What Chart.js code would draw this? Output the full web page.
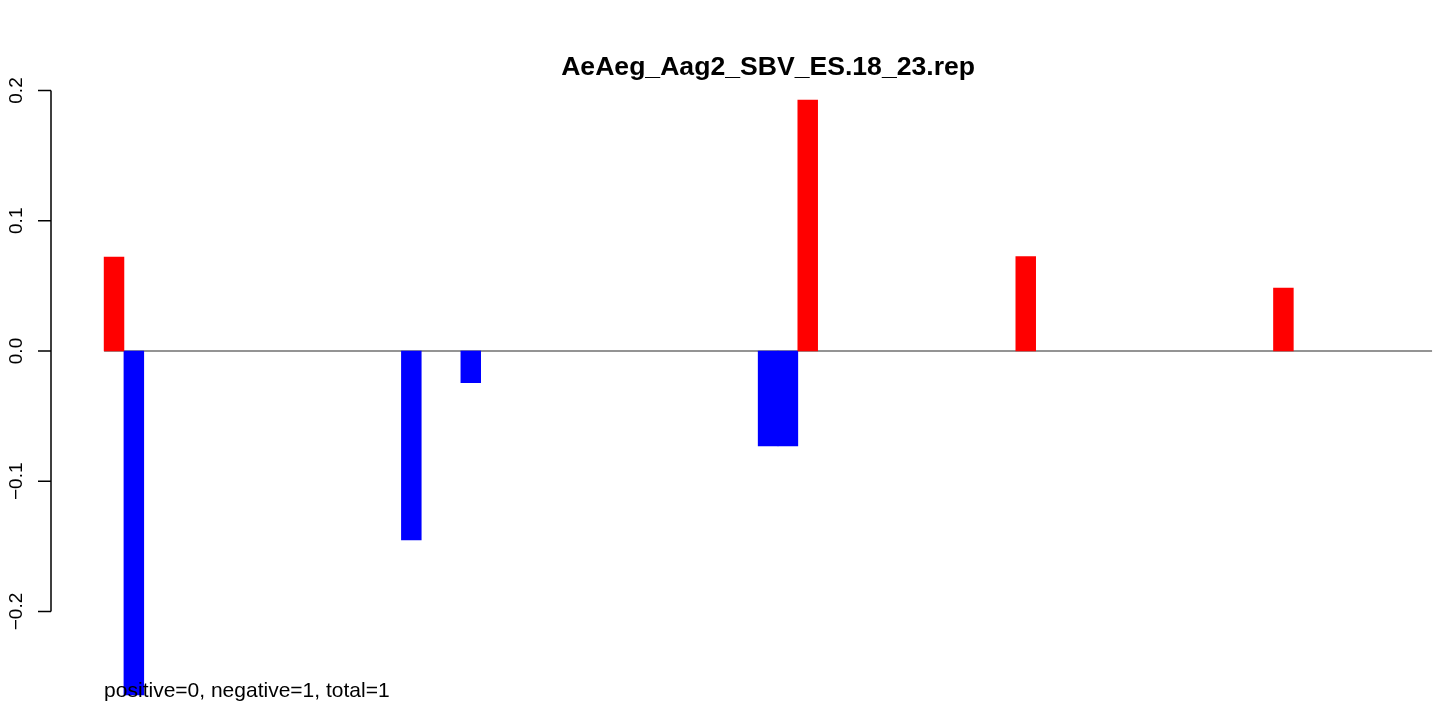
<!DOCTYPE html>
<html>
<head>
<meta charset="utf-8">
<script src="https://cdn.jsdelivr.net/npm/chart.js@4.4.1/dist/chart.umd.min.js"></script>
<style>
  html, body { margin: 0; padding: 0; background: #fff; }
  canvas { display: block; }
</style>
</head>
<body>
<canvas id="repChart" width="1439" height="706"></canvas>
<script>
// dados
const chartTitle = 'AeAeg_Aag2_SBV_ES.18_23.rep';
const footText = 'positive=0, negative=1, total=1';
const nSlots = 67;

const posSlots = [0, 35, 46, 59];
const posValues = [0.0722, 0.1927, 0.0724, 0.0484];

const negSlots = [1, 15, 18, 33, 34];
const negValues = [-0.2641, -0.1451, -0.0243, -0.0729, -0.0729];

const yTicks = [-0.2, -0.1, 0.0, 0.1, 0.2];
const yTickLabels = ['\u22120.2', '\u22120.1', '0.0', '0.1', '0.2'];

const fontFam = '"Liberation Sans", Arial, Helvetica, sans-serif';

// geometria (px) tirada da imagem
var slotPx = 19.82;
var areaLeft = 51;
var areaRight = 1439;
var xMin = -0.5 - 0.04 * nSlots;
var xMax = xMin + (areaRight - areaLeft) / slotPx;
var yPx = 1302.5;
var yMax = 351 / yPx;
var yMin = -(706 - 351) / yPx;

function toPoints(xs, ys) {
    return xs.map(function (x, i) { return { x: x, y: ys[i] }; });
}

// eixo y, titulo e texto de rodape desenhados a mao (rotulos girados como no R)
const rAxisPlugin = {
    id: 'rAxis',
    afterDraw(chart) {
        var ctx = chart.ctx;
        var ys = chart.scales.y;
        var xs = chart.scales.x;
        var axisX = chart.chartArea.left;

        ctx.save();
        ctx.strokeStyle = '#000';
        ctx.lineWidth = 1.5;
        ctx.beginPath();
        ctx.moveTo(axisX, ys.getPixelForValue(yTicks[0]));
        ctx.lineTo(axisX, ys.getPixelForValue(yTicks[yTicks.length - 1]));
        yTicks.forEach(function (t) {
            var py = ys.getPixelForValue(t);
            ctx.moveTo(axisX, py);
            ctx.lineTo(axisX - 13, py);
        });
        ctx.stroke();

        ctx.fillStyle = '#000';
        ctx.font = '19px ' + fontFam;
        ctx.textAlign = 'center';
        ctx.textBaseline = 'alphabetic';
        yTicks.forEach(function (t, i) {
            var py = ys.getPixelForValue(t);
            ctx.save();
            ctx.translate(22, py);
            ctx.rotate(-Math.PI / 2);
            ctx.fillText(yTickLabels[i], 0, 0);
            ctx.restore();
        });

        // titulo centrado na faixa das barras
        var midX = xs.getPixelForValue((nSlots - 1) / 2);
        ctx.font = 'bold 26.6px ' + fontFam;
        ctx.textAlign = 'center';
        ctx.fillText(chartTitle, midX, 75);

        // rodape alinhado com a primeira barra
        ctx.font = '21px ' + fontFam;
        ctx.textAlign = 'left';
        ctx.fillText(footText, xs.getPixelForValue(-0.5), 697);
        ctx.restore();
    }
};

var ctx1 = document.getElementById('repChart').getContext('2d');
var repChart = new Chart(ctx1, {
    type: 'bar',
    data: {
        datasets: [
            {
                label: 'positive',
                data: toPoints(posSlots, posValues),
                backgroundColor: '#ff0000',
                borderWidth: 0,
                grouped: false,
                barPercentage: 1,
                categoryPercentage: 1
            },
            {
                label: 'negative',
                data: toPoints(negSlots, negValues),
                backgroundColor: '#0000ff',
                borderWidth: 0,
                grouped: false,
                barPercentage: 1,
                categoryPercentage: 1
            },
            {
                // linha do zero, por baixo das barras
                type: 'line',
                label: 'zero',
                data: toPoints([-0.5, nSlots - 0.5], [0, 0]),
                borderColor: '#707070',
                borderWidth: 1.5,
                pointRadius: 0,
                fill: false
            }
        ]
    },
    options: {
        responsive: false,
        animation: false,
        devicePixelRatio: 1,
        layout: { padding: { left: areaLeft, right: 0, top: 0, bottom: 0 } },
        plugins: {
            legend: { display: false },
            tooltip: { enabled: false },
            title: { display: false }
        },
        scales: {
            x: {
                type: 'linear',
                offset: false,
                min: xMin,
                max: xMax,
                display: false,
                ticks: { stepSize: 1 }
            },
            y: {
                type: 'linear',
                min: yMin,
                max: yMax,
                display: false
            }
        }
    },
    plugins: [rAxisPlugin]
});
</script>
</body>
</html>
